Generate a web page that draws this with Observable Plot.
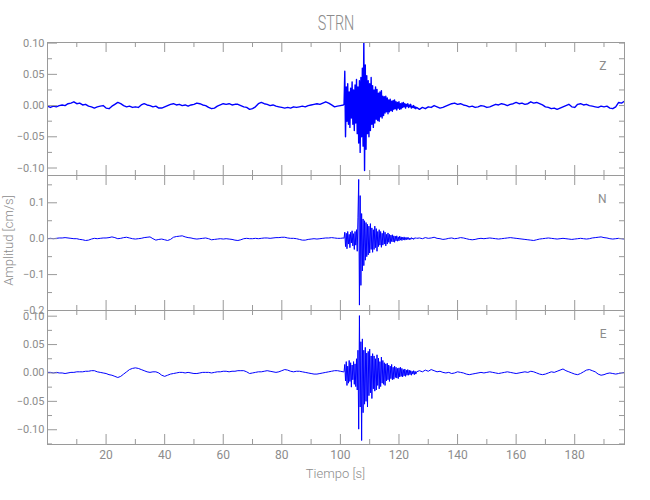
<!DOCTYPE html>
<html><head><meta charset="utf-8">
<script src="https://cdn.jsdelivr.net/npm/d3@7"></script>
<script src="https://cdn.jsdelivr.net/npm/@observablehq/plot@0.6"></script>
<style>
body{margin:0;background:#fff;}
#chart{position:relative;width:650px;height:500px;font-family:Roboto,'Liberation Sans',sans-serif;color:#8c8c8c;overflow:hidden;}
.abs{position:absolute;}
#chart svg{position:absolute;left:0;overflow:visible;}
</style></head><body><div id="chart"></div>
<script>
// ---------- text ----------
const station = "STRN";
const xTitle = "Tiempo [s]";
const yTitle = "Amplitud [cm/s]";
const components = ["Z", "N", "E"];

// ---------- ticks ----------
const xTickLabels = [20, 40, 60, 80, 100, 120, 140, 160, 180];
const xMinorTicks = [10, 30, 50, 70, 90, 110, 130, 150, 170, 190];
const zTicks = [-0.10, -0.05, 0.00, 0.05, 0.10];
const zMinor = [-0.075, -0.025, 0.025, 0.075];
const nTicks = [-0.2, -0.1, 0.0, 0.1];
const nMinor = [-0.15, -0.05, 0.05, 0.15];
const eTicks = [-0.10, -0.05, 0.00, 0.05, 0.10];
const eMinor = [-0.125, -0.075, -0.025, 0.025, 0.075];

// ---------- sampling grid (s) ----------
const quietStep = 1, burstStep = 0.25;
const timePre = d3.range(0, 101 + quietStep / 2, quietStep);          // 0..101
const timeBurst = d3.range(101.25, 126 + burstStep / 2, burstStep);   // 101.25..126
const timePost = d3.range(127, 197 + quietStep / 2, quietStep);       // 127..197

// ---------- Z component (cm/s) ----------
const zPre = [-0.001,-0.003,-0.001,-0.002,0.000,0.001,0.000,0.003,0.004,0.006,
0.003,0.004,0.001,0.002,-0.001,-0.002,-0.004,-0.002,-0.001,0.000,
-0.004,-0.005,-0.001,0.002,0.005,0.003,0.000,-0.002,-0.001,-0.003,
-0.002,-0.003,0.001,0.003,0.001,0.000,-0.002,-0.001,-0.004,-0.004,
-0.002,0.000,0.002,0.003,0.001,0.002,0.000,0.001,-0.001,0.001,
0.002,0.004,0.003,0.001,0.000,-0.003,-0.005,-0.004,-0.001,0.001,
0.003,0.002,0.003,0.001,0.002,0.002,0.000,-0.002,-0.003,-0.006,
-0.005,-0.002,0.003,0.005,0.003,0.002,0.000,0.001,-0.001,-0.002,
-0.003,-0.004,-0.003,-0.004,-0.002,-0.003,-0.002,-0.001,-0.002,0.000,
0.001,0.002,0.003,0.002,0.004,0.006,0.004,0.001,-0.002,-0.001,
0.000,0.001];
const zBurst = [0.002,0.055,-0.050,
0.030,-0.025,0.035,-0.030, 0.022,-0.035,0.028,-0.020, 0.038,-0.030,0.025,-0.040,
0.033,-0.028,0.042,-0.045, 0.030,-0.060,0.040,-0.075, 0.045,-0.050,0.060,-0.065,
0.105,-0.104,0.065,-0.070, 0.048,-0.045,0.040,-0.050, 0.035,-0.040,0.045,-0.030,
0.032,-0.035,0.025,-0.028, 0.030,-0.022,0.026,-0.024, 0.020,-0.025,0.022,-0.018,
0.024,-0.020,0.015,-0.016, 0.014,-0.012,0.015,-0.010, 0.012,-0.013,0.009,-0.010,
0.010,-0.008,0.007,-0.009, 0.008,-0.006,0.009,-0.005, 0.006,-0.007,0.005,-0.004,
0.006,-0.006,0.003,-0.005, 0.004,-0.003,0.005,-0.002, 0.003,-0.004,0.002,-0.001,
0.003,-0.003,0.001,-0.002, 0.002,-0.004,-0.001,-0.003, 0.000,-0.004,-0.002,-0.005,
-0.003];
const zPost = [-0.006,-0.003,-0.005,-0.002,-0.003,0.000,-0.002,-0.004,-0.003,-0.001,
0.001,0.003,0.004,0.002,0.003,0.001,0.000,-0.002,-0.001,-0.003,
-0.002,0.000,-0.001,-0.003,-0.002,0.000,0.002,0.001,0.003,0.002,
0.000,0.002,0.003,0.005,0.003,0.004,0.002,0.003,0.006,0.004,
0.005,0.003,0.001,-0.002,-0.003,-0.005,-0.004,-0.006,-0.004,-0.002,
0.000,0.002,-0.002,-0.003,0.002,0.003,0.001,0.002,0.000,-0.001,
-0.002,-0.003,-0.001,-0.002,-0.001,-0.004,-0.005,-0.002,0.005,0.004,
0.007];

// ---------- N component (cm/s) ----------
const nPre = [0.000,0.001,0.000,0.001,0.002,0.002,0.003,0.002,0.001,0.000,
0.000,-0.002,-0.003,-0.005,-0.004,-0.001,0.001,0.000,0.001,0.002,
0.002,0.003,0.005,0.003,0.000,0.001,0.003,0.004,0.002,0.000,
-0.001,0.000,0.001,0.003,0.004,0.005,0.000,-0.004,-0.002,-0.001,
-0.003,-0.005,-0.002,0.004,0.006,0.007,0.008,0.005,0.003,0.002,
0.000,-0.001,0.000,0.001,0.002,0.000,-0.003,-0.002,-0.001,0.000,
-0.001,0.000,-0.001,-0.002,-0.004,-0.005,-0.003,0.000,0.001,0.000,
0.000,0.001,0.000,0.001,0.002,0.002,0.001,0.002,0.003,0.003,
0.004,0.004,0.002,0.001,0.001,0.000,-0.002,-0.004,-0.004,-0.002,
-0.001,0.000,-0.001,0.000,0.001,0.002,0.002,0.003,0.002,0.001,
0.001,0.002];
const nBurst = [0.001,0.018,-0.022,
0.015,-0.028,0.020,-0.015, 0.012,-0.025,0.018,-0.012, 0.022,-0.020,0.014,-0.030,
0.020,-0.018,0.025,-0.035, 0.060,0.165,-0.185,0.120, -0.130,0.070,-0.090,0.055,
-0.075,0.050,-0.060,0.045, -0.050,0.040,-0.045,0.035, -0.040,0.042,-0.030,0.030,
-0.038,0.025,-0.030,0.035, -0.025,0.028,-0.035,0.020, -0.022,0.025,-0.018,0.020,
-0.024,0.015,-0.018,0.022, -0.015,0.018,-0.020,0.012, -0.015,0.016,-0.010,0.012,
-0.014,0.010,-0.008,0.011, -0.009,0.008,-0.010,0.007, -0.006,0.008,-0.007,0.005,
-0.006,0.007,-0.004,0.005, -0.005,0.004,-0.003,0.005, -0.004,0.003,-0.003,0.004,
-0.002,0.003,-0.003,0.002, -0.002,0.003,-0.001,0.002, -0.002,0.002,0.000,0.003,
0.001];
const nPost = [0.002,0.000,0.003,0.001,0.002,0.004,0.001,0.000,-0.002,-0.001,
0.001,0.002,0.000,0.001,0.003,0.002,0.000,-0.002,-0.003,-0.002,
0.000,0.001,0.000,0.001,0.002,0.001,0.000,-0.001,0.000,0.001,
0.002,0.003,0.002,0.001,0.000,-0.001,-0.002,-0.003,-0.004,-0.005,
-0.003,-0.001,0.000,0.001,0.002,0.001,0.000,-0.001,0.000,0.001,
0.000,-0.001,-0.002,-0.001,0.000,0.001,0.000,-0.001,0.000,0.002,
0.003,0.004,0.005,0.003,0.002,0.000,-0.001,0.000,0.001,0.000,
-0.001];

// ---------- E component (cm/s) ----------
const ePre = [0.001,0.001,0.000,0.001,0.000,0.000,-0.001,0.000,0.001,0.001,
0.002,0.002,0.002,0.003,0.003,0.004,0.004,0.002,0.001,0.000,
-0.001,-0.003,-0.004,-0.006,-0.008,-0.006,-0.002,0.002,0.006,0.008,
0.009,0.008,0.006,0.004,0.002,0.001,0.002,0.002,0.000,-0.004,
-0.006,-0.004,-0.002,-0.001,0.000,0.001,0.001,0.000,0.001,0.000,
-0.001,-0.001,0.000,0.001,0.001,0.001,0.000,0.001,0.002,0.002,
0.003,0.003,0.002,0.003,0.003,0.004,0.004,0.004,0.002,-0.001,
0.000,0.001,0.002,0.002,0.003,0.004,0.003,0.002,0.001,0.002,
0.004,0.006,0.005,0.003,0.002,0.003,0.003,0.002,0.001,0.000,
-0.001,-0.002,-0.002,-0.001,0.000,0.001,0.002,0.003,0.004,0.004,
0.003,0.002];
const eBurst = [0.002,0.015,-0.014,
0.020,-0.022,0.012,-0.018, 0.022,-0.015,0.018,-0.025, 0.014,-0.012,0.020,-0.020,
0.016,-0.024,0.025,-0.030, 0.040,-0.099,0.101,-0.060, 0.055,-0.119,0.060,-0.070,
0.040,-0.055,0.045,-0.050, 0.035,-0.060,0.038,-0.040, 0.042,-0.035,0.030,-0.045,
0.034,-0.028,0.030,-0.032, 0.025,-0.030,0.032,-0.022, 0.026,-0.028,0.020,-0.024,
0.028,-0.018,0.022,-0.020, 0.018,-0.022,0.016,-0.014, 0.017,-0.012,0.014,-0.015,
0.012,-0.010,0.015,-0.012, 0.010,-0.011,0.012,-0.008, 0.010,-0.009,0.008,-0.010,
0.009,-0.007,0.010,-0.006, 0.008,-0.007,0.006,-0.005, 0.007,-0.006,0.005,-0.004,
0.006,-0.004,0.005,-0.003, 0.004,-0.004,0.003,-0.002, 0.004,-0.003,0.003,-0.002,
0.002];
const ePost = [0.004,0.002,0.005,0.003,0.006,0.004,0.002,0.003,0.001,0.000,
0.001,-0.001,0.000,0.002,0.001,0.000,-0.002,-0.003,-0.002,-0.001,
0.000,0.001,0.000,0.001,0.002,0.001,0.000,-0.001,0.000,0.001,
0.002,0.001,0.000,-0.001,0.000,0.001,0.002,0.001,0.003,0.002,
0.000,-0.002,-0.003,-0.002,0.000,0.002,0.001,0.003,0.005,0.007,
0.004,0.002,0.000,-0.002,-0.003,-0.001,0.002,0.005,0.006,0.004,
0.002,-0.002,-0.004,-0.003,-0.001,0.000,-0.001,-0.002,-0.001,0.000,
0.001];

// ---------- assemble ----------
const time = [...timePre, ...timeBurst, ...timePost];
function series(pre, burst, post) {
  const v = [...pre, ...burst, ...post];
  return time.map((t, i) => ({t, v: v[i]})).filter(d => d.v !== undefined);
}
const panels = [
  {name: components[0], data: series(zPre, zBurst, zPost), domain: [-0.112, 0.101], ticks: zTicks, minor: zMinor, fmt: ".2f", top: 42, h: 133, sw: 1.4},
  {name: components[1], data: series(nPre, nBurst, nPost), domain: [-0.2, 0.176], ticks: nTicks, minor: nMinor, fmt: ".1f", top: 175, h: 135, sw: 1},
  {name: components[2], data: series(ePre, eBurst, ePost), domain: [-0.126, 0.11], ticks: eTicks, minor: eMinor, fmt: ".2f", top: 310, h: 134, sw: 1}
];

const W = 650, ML = 47, MR = 26, PW = W - ML - MR;
const frameGrey = "#9a9a9a", textGrey = "#8c8c8c";
const xDomain = [0, 197];
const chart = document.getElementById("chart");

panels.forEach((p, i) => {
  const last = i === panels.length - 1;
  const mb = last ? 60 : 0;
  const marks = [
    Plot.line(p.data, {x: "t", y: "v", stroke: "#0000ff", strokeWidth: p.sw, clip: true}),
    Plot.frame({stroke: frameGrey}),
    Plot.ruleY(p.ticks, {stroke: frameGrey, insetRight: PW - 10}),
    Plot.ruleY(p.minor, {stroke: frameGrey, insetRight: PW - 5}),
    Plot.ruleY([...p.ticks, ...p.minor], {stroke: frameGrey, insetLeft: PW - 5}),
    Plot.ruleX(xTickLabels, {stroke: frameGrey, insetBottom: p.h - 10}),
    Plot.ruleX(xMinorTicks, {stroke: frameGrey, insetBottom: p.h - 5}),
    Plot.ruleX(xTickLabels, {stroke: frameGrey, insetTop: p.h - 10}),
    Plot.ruleX(xMinorTicks, {stroke: frameGrey, insetTop: p.h - 5}),
    Plot.axisY(p.ticks, {anchor: "left", tickSize: 0, tickPadding: 3, tickFormat: d3.format(p.fmt), label: null, fill: textGrey, fontSize: 11}),
    Plot.text([p.name], {frameAnchor: "top-right", dx: -18, dy: 19, fill: textGrey, fontSize: 12})
  ];
  if (last) marks.push(Plot.axisX(xTickLabels, {anchor: "bottom", tickSize: 0, tickPadding: 6, label: null, fill: textGrey, fontSize: 12, tickFormat: d => String(d)}));
  const svg = Plot.plot({
    width: W, height: p.h + mb, marginLeft: ML, marginRight: MR, marginTop: 0, marginBottom: mb,
    x: {domain: xDomain, axis: null},
    y: {domain: p.domain, axis: null},
    style: {background: "transparent", overflow: "visible", fontFamily: "Roboto, 'Liberation Sans', sans-serif"},
    marks
  });
  svg.style.top = p.top + "px";
  chart.appendChild(svg);
});

const title = document.createElement("div");
title.className = "abs";
title.textContent = station;
Object.assign(title.style, {left: (ML + PW / 2 - 50) + "px", width: "100px", top: "11px", textAlign: "center", fontSize: "20px", fontWeight: "300", transform: "scaleX(0.72)"});
chart.appendChild(title);

const xt = document.createElement("div");
xt.className = "abs";
xt.textContent = xTitle;
Object.assign(xt.style, {left: (ML + PW / 2 - 60) + "px", width: "120px", top: "466px", textAlign: "center", fontSize: "13px", fontWeight: "300"});
chart.appendChild(xt);

const yt = document.createElement("div");
yt.className = "abs";
yt.textContent = yTitle;
Object.assign(yt.style, {left: "-52px", width: "120px", top: "233px", textAlign: "center", fontSize: "13px", fontWeight: "300", transform: "rotate(-90deg)"});
chart.appendChild(yt);
</script></body></html>
